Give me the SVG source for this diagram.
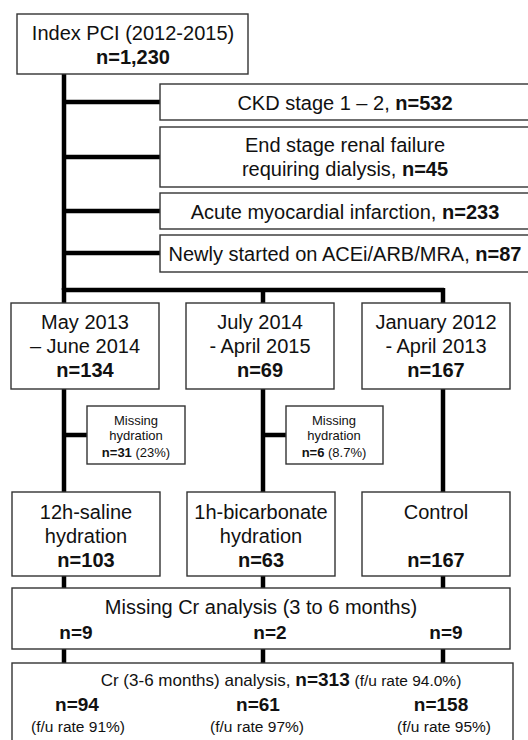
<svg xmlns="http://www.w3.org/2000/svg" width="528" height="740" viewBox="0 0 528 740">
<style>
.box{fill:#fff;stroke:#333;stroke-width:1.4}
.c{fill:none;stroke:#000;stroke-width:4.5}
text{font-family:"Liberation Sans",Arial,sans-serif;fill:#111;text-anchor:middle}
.t{font-size:20px}
.n{font-size:19px;font-weight:bold}
.s{font-size:13px}
.m{font-size:15.5px}
.b{font-weight:bold}
</style>
<rect width="528" height="740" fill="#fff"/>
<g id="connectors">
<path class="c" d="M64 74V290M64 102H160M64 157H160M64 211H160M64 253H160"/>
<path class="c" d="M62 290H444M64 288V303M263 290V303M443 288V303"/>
<path class="c" d="M64 389V492M64 435H87M263 389V492M263 435H288M443 389V492"/>
<path class="c" d="M64 576V588M263 576V588M443 576V588"/>
<path class="c" d="M64 649V663M263 649V663M443 649V663"/>
</g>
<g id="index"><rect class="box" x="17" y="14" width="231" height="60"/>
<text class="t" x="133" y="40">Index PCI (2012-2015)</text>
<text class="t b" x="133" y="64">n=1,230</text></g>
<g id="ckd"><rect class="box" x="160" y="84" width="380" height="36"/>
<text class="t" x="345" y="110">CKD stage 1 – 2, <tspan class="b">n=532</tspan></text></g>
<g id="esrf"><rect class="box" x="160" y="127" width="380" height="60"/>
<text class="t" x="345" y="152">End stage renal failure</text>
<text class="t" x="345" y="176">requiring dialysis, <tspan class="b">n=45</tspan></text></g>
<g id="ami"><rect class="box" x="160" y="193" width="380" height="36"/>
<text class="t" x="345" y="219">Acute myocardial infarction, <tspan class="b">n=233</tspan></text></g>
<g id="acei"><rect class="box" x="160" y="235" width="380" height="37"/>
<text class="t" x="345" y="261">Newly started on ACEi/ARB/MRA, <tspan class="b">n=87</tspan></text></g>
<g id="period1"><rect class="box" x="11" y="303" width="148" height="86"/>
<text class="t" x="85" y="329">May 2013</text>
<text class="t" x="85" y="353">– June 2014</text>
<text class="t b" x="85" y="377">n=134</text></g>
<g id="period2"><rect class="box" x="186" y="303" width="148" height="86"/>
<text class="t" x="260" y="329">July 2014</text>
<text class="t" x="260" y="353">- April 2015</text>
<text class="t b" x="260" y="377">n=69</text></g>
<g id="period3"><rect class="box" x="362" y="303" width="148" height="86"/>
<text class="t" x="436" y="329">January 2012</text>
<text class="t" x="436" y="353">- April 2013</text>
<text class="t b" x="436" y="377">n=167</text></g>
<g id="miss1"><rect class="box" x="87" y="406" width="98" height="58"/>
<text class="s" x="136" y="425">Missing</text>
<text class="s" x="136" y="440">hydration</text>
<text class="s" x="136" y="457"><tspan class="b">n=31</tspan> (23%)</text></g>
<g id="miss2"><rect class="box" x="286" y="406" width="97" height="58"/>
<text class="s" x="334" y="425">Missing</text>
<text class="s" x="334" y="440">hydration</text>
<text class="s" x="334" y="457"><tspan class="b">n=6</tspan> (8.7%)</text></g>
<g id="saline"><rect class="box" x="12" y="492" width="148" height="84"/>
<text class="t" x="86" y="519">12h-saline</text>
<text class="t" x="86" y="543">hydration</text>
<text class="t b" x="86" y="567">n=103</text></g>
<g id="bicarb"><rect class="box" x="187" y="492" width="148" height="84"/>
<text class="t" x="261" y="519">1h-bicarbonate</text>
<text class="t" x="261" y="543">hydration</text>
<text class="t b" x="261" y="567">n=63</text></g>
<g id="control"><rect class="box" x="362" y="492" width="148" height="84"/>
<text class="t" x="436" y="519">Control</text>
<text class="t b" x="436" y="567">n=167</text></g>
<g id="missingcr"><rect class="box" x="12" y="588" width="498" height="61"/>
<text class="t" x="261" y="614">Missing Cr analysis (3 to 6 months)</text>
<text class="n" x="76" y="639">n=9</text>
<text class="n" x="270" y="639">n=2</text>
<text class="n" x="446" y="639">n=9</text></g>
<g id="analysis"><rect class="box" x="12" y="663" width="501" height="90"/>
<text x="281" y="686" font-size="17px">Cr (3-6 months) analysis, <tspan class="n">n=313</tspan> <tspan class="m">(f/u rate 94.0%)</tspan></text>
<text class="n" x="77" y="711">n=94</text>
<text class="n" x="258" y="711">n=61</text>
<text class="n" x="441" y="711">n=158</text>
<text class="m" x="78" y="732">(f/u rate 91%)</text>
<text class="m" x="257" y="732">(f/u rate 97%)</text>
<text class="m" x="444" y="732">(f/u rate 95%)</text></g>
</svg>
